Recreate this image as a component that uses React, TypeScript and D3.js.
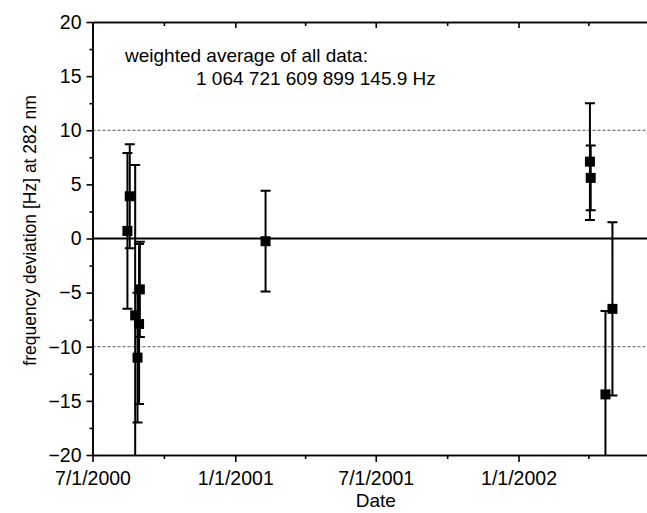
import React, { useEffect, useRef } from 'react';
import * as d3 from 'd3';

// measurement dates, frequency deviation [Hz] and 1-sigma errors
const dates = [
  '2000-08-15', '2000-08-18', '2000-08-25', '2000-08-28', '2000-08-30', '2000-08-31',
  '2001-02-09',
  '2002-04-03', '2002-04-04', '2002-04-23', '2002-05-02',
];
const values = [0.7, 3.9, -7.1, -11.0, -7.9, -4.7, -0.25, 7.1, 5.6, -14.4, -6.5];
const errors = [7.2, 4.8, 13.9, 6.0, 7.4, 4.4, 4.65, 5.4, 3.0, 7.7, 8.0];

const yTicks = [-20, -15, -10, -5, 0, 5, 10, 15, 20];
const dashedLevels = [-10, 10];

const FONT = '"Liberation Sans", Arial, sans-serif';

const App = () => {
  const svgRef = useRef<SVGSVGElement>(null);

  useEffect(() => {
    const svg = d3.select(svgRef.current);
    svg.selectAll('*').remove();

    const left = 92.5, top = 22, bottom = 455, right = 659;
    const parse = d3.timeParse('%Y-%m-%d');
    const data = dates.map((d, i) => ({ date: parse(d) as Date, v: values[i], e: errors[i] }));

    const x = d3.scaleTime()
      .domain([new Date(2000, 6, 1), new Date(2002, 6, 1)])
      .range([left, right]);
    const y = d3.scaleLinear().domain([-20, 20]).range([bottom, top]);

    svg.append('defs').append('clipPath').attr('id', 'plot-clip')
      .append('rect')
      .attr('x', left).attr('y', top)
      .attr('width', right - left).attr('height', bottom - top);

    // reference lines
    svg.append('g')
      .selectAll('line')
      .data(dashedLevels)
      .join('line')
      .attr('x1', left).attr('x2', right)
      .attr('y1', d => y(d)).attr('y2', d => y(d))
      .attr('stroke', '#555')
      .attr('stroke-width', 1)
      .attr('stroke-dasharray', '3,2');

    svg.append('line')
      .attr('x1', left).attr('x2', right)
      .attr('y1', y(0)).attr('y2', y(0))
      .attr('stroke', '#000')
      .attr('stroke-width', 2);

    const fmt = (d: Date) => `${d.getMonth() + 1}/${d.getDate()}/${d.getFullYear()}`;
    // the 7/1/2002 tick sits just past the right edge of the picture
    const major = x.ticks(d3.timeMonth.every(6)!).filter(d => x(d) < 640);
    const minor = x.ticks(d3.timeMonth.every(3)!).filter(d => d.getMonth() % 6 !== 0);

    const styleAxis = (g: any) => {
      g.selectAll('path, line').attr('stroke', '#000').attr('stroke-width', 1.6);
      g.selectAll('text').attr('fill', '#000').style('font-family', FONT).style('font-size', '19.5px');
    };

    // bottom axis
    svg.append('g')
      .attr('transform', `translate(0,${bottom})`)
      .call(d3.axisBottom(x).tickValues(major).tickSize(7).tickSizeOuter(0).tickPadding(9).tickFormat(fmt as any))
      .call(styleAxis);
    svg.append('g')
      .attr('transform', `translate(0,${bottom})`)
      .call(d3.axisBottom(x).tickValues(minor).tickSize(4).tickSizeOuter(0).tickFormat(() => ''))
      .call(styleAxis);

    // top axis (ticks inward)
    svg.append('g')
      .attr('transform', `translate(0,${top})`)
      .call(d3.axisTop(x).tickValues(major).tickSize(-6).tickSizeOuter(0).tickFormat(() => ''))
      .call(styleAxis);
    svg.append('g')
      .attr('transform', `translate(0,${top})`)
      .call(d3.axisTop(x).tickValues(minor).tickSize(-4).tickSizeOuter(0).tickFormat(() => ''))
      .call(styleAxis);

    // left axis
    svg.append('g')
      .attr('transform', `translate(${left},0)`)
      .call(d3.axisLeft(y).tickValues(yTicks).tickSize(6).tickSizeOuter(0).tickPadding(5).tickFormat(d3.format('d') as any))
      .call(styleAxis);
    svg.append('g')
      .attr('transform', `translate(${left},0)`)
      .call(d3.axisLeft(y).tickValues(yTicks.slice(1).map(t => t - 2.5)).tickSize(3).tickSizeOuter(0).tickFormat(() => ''))
      .call(styleAxis);

    // error bars + markers
    const plot = svg.append('g').attr('clip-path', 'url(#plot-clip)');
    const cap = 5;
    const bars = plot.selectAll('g.pt').data(data).join('g').attr('class', 'pt');
    bars.append('line')
      .attr('x1', d => x(d.date)).attr('x2', d => x(d.date))
      .attr('y1', d => y(d.v + d.e)).attr('y2', d => y(d.v - d.e))
      .attr('stroke', '#000').attr('stroke-width', 2);
    bars.append('line')
      .attr('x1', d => x(d.date) - cap).attr('x2', d => x(d.date) + cap)
      .attr('y1', d => y(d.v + d.e)).attr('y2', d => y(d.v + d.e))
      .attr('stroke', '#000').attr('stroke-width', 2);
    bars.append('line')
      .attr('x1', d => x(d.date) - cap).attr('x2', d => x(d.date) + cap)
      .attr('y1', d => y(d.v - d.e)).attr('y2', d => y(d.v - d.e))
      .attr('stroke', '#000').attr('stroke-width', 2);
    plot.selectAll('rect.mk').data(data).join('rect').attr('class', 'mk')
      .attr('x', d => x(d.date) - 5).attr('y', d => y(d.v) - 5)
      .attr('width', 10).attr('height', 10)
      .attr('fill', '#000');

    // annotation
    svg.append('text')
      .attr('x', 125).attr('y', 62)
      .style('font-family', FONT).style('font-size', '19px')
      .text('weighted average of all data:');
    svg.append('text')
      .attr('x', 196).attr('y', 85)
      .style('font-family', FONT).style('font-size', '19px')
      .text('1 064 721 609 899 145.9 Hz');

    // axis titles
    svg.append('text')
      .attr('x', (left + right) / 2).attr('y', 507)
      .attr('text-anchor', 'middle')
      .style('font-family', FONT).style('font-size', '19px')
      .text('Date');
    svg.append('text')
      .attr('transform', `translate(36, ${(top + bottom) / 2 - 8}) rotate(-90)`)
      .attr('text-anchor', 'middle')
      .style('font-family', FONT).style('font-size', '17.5px')
      .text('frequency deviation [Hz] at 282 nm');
  }, []);

  return (
    <svg ref={svgRef} width={647} height={513}
      style={{ position: 'absolute', left: 0, top: 0, background: '#fff' }} />
  );
};

export default App;
